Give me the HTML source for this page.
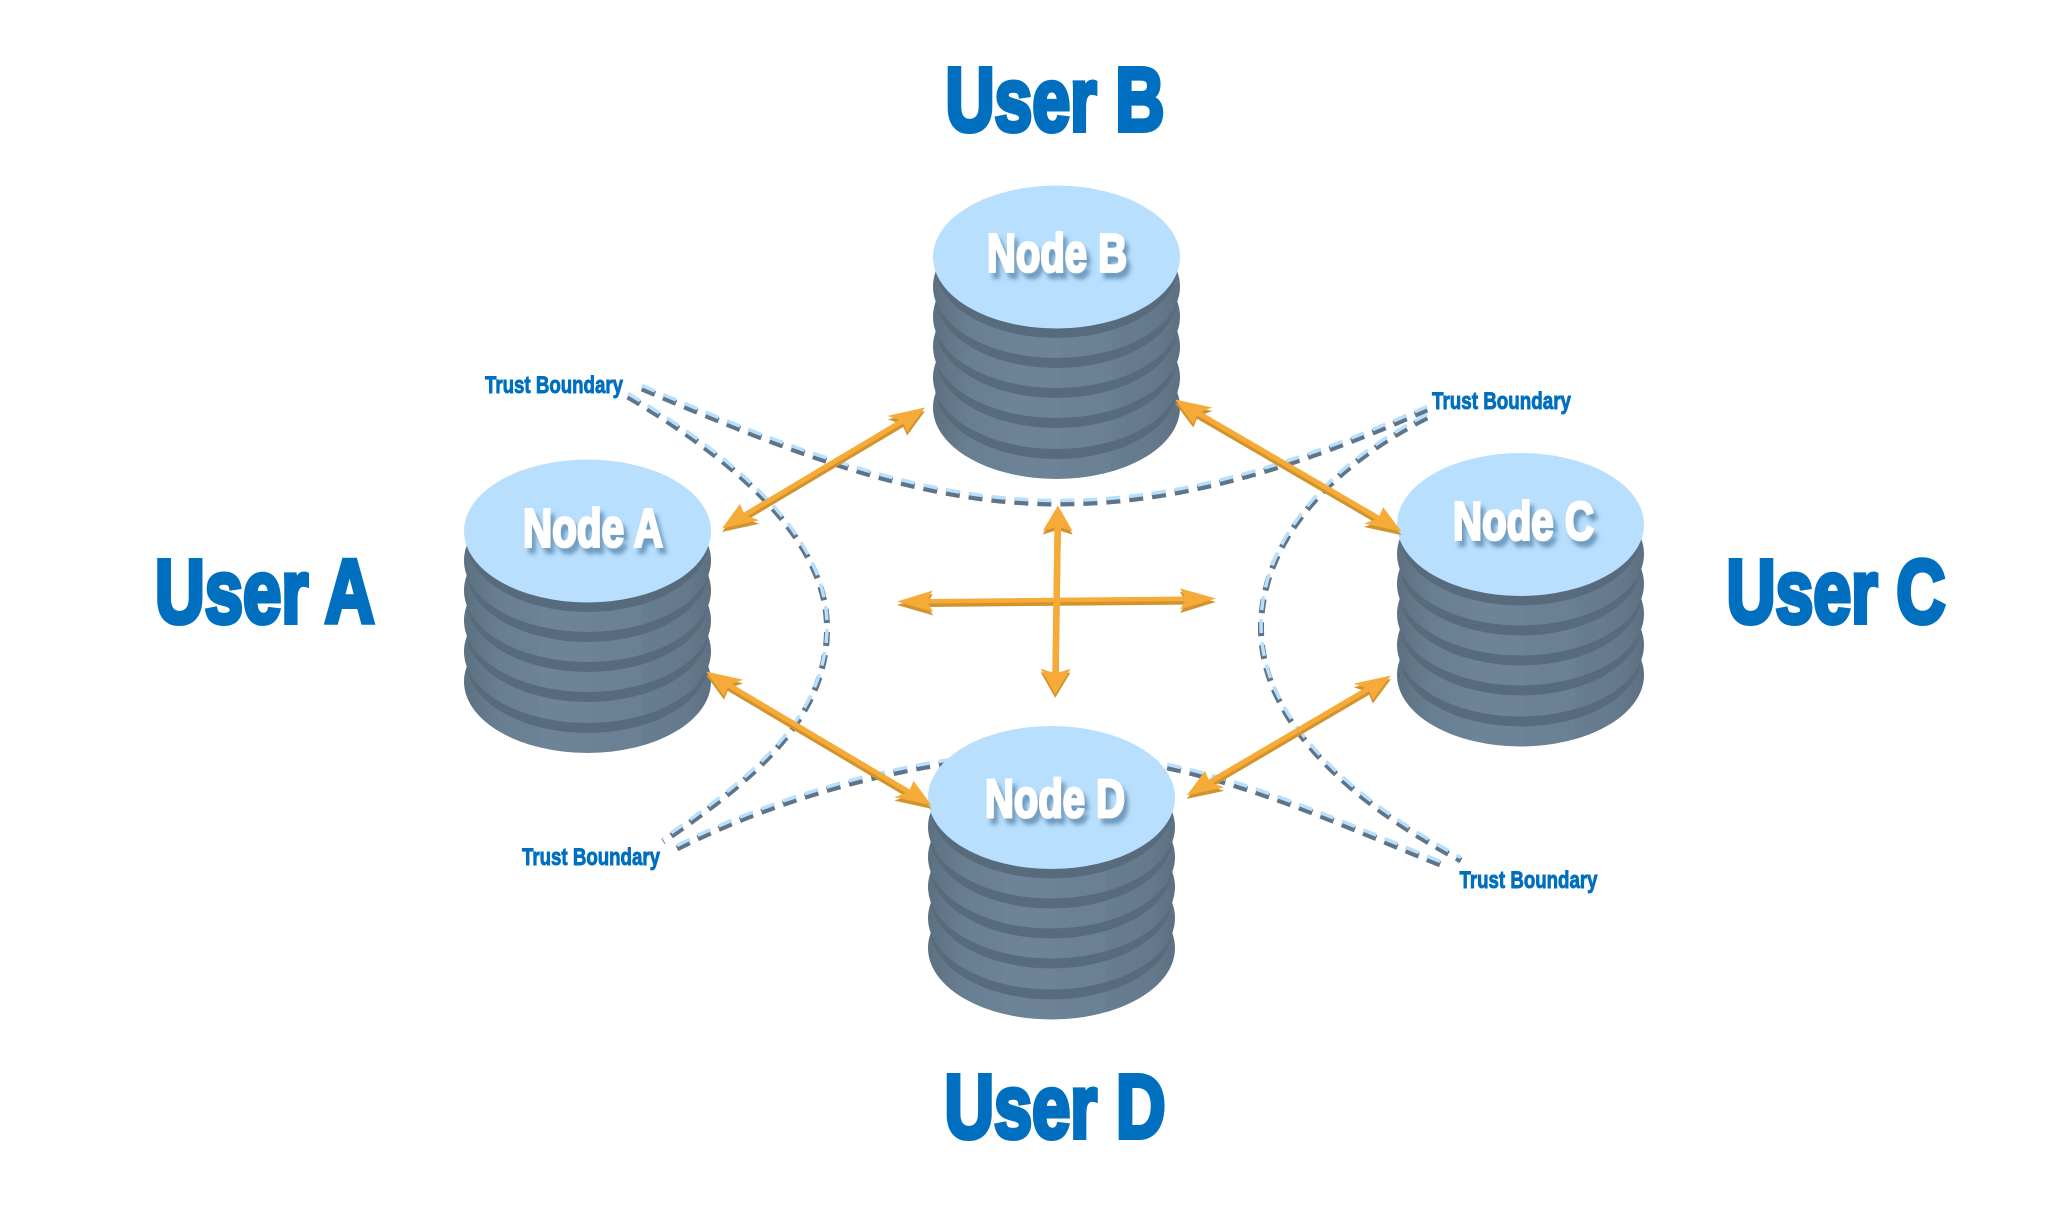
<!DOCTYPE html>
<html>
<head>
<meta charset="utf-8">
<style>
html,body{margin:0;padding:0;background:#fff;}
svg{display:block;}
text{font-family:"Liberation Sans",sans-serif;font-weight:bold;}
.u{font-size:90px;fill:#016fbf;stroke:#016fbf;stroke-width:5px;stroke-linejoin:miter;}
.n{font-size:54px;fill:#fff;stroke:#fff;stroke-width:2.8px;stroke-linejoin:miter;}
.t{font-size:24px;fill:#016fbf;stroke:#016fbf;stroke-width:.9px;}
.dk{fill:none;stroke:#5f7487;stroke-width:6;stroke-dasharray:14 9;}
.lt{fill:none;stroke:#b8dffd;stroke-width:3.5;stroke-dasharray:14 9;}
</style>
</head>
<body>
<svg width="2048" height="1230" viewBox="0 0 2048 1230" xmlns="http://www.w3.org/2000/svg">
<defs>
<linearGradient id="f" x1="0" x2="1" y1="0" y2="0">
<stop offset="0" stop-color="#5c7081"/><stop offset=".07" stop-color="#627788"/>
<stop offset=".14" stop-color="#687e91"/><stop offset=".3" stop-color="#6b8195"/>
<stop offset=".3" stop-color="#6d8498"/><stop offset=".52" stop-color="#6d8498"/>
<stop offset=".52" stop-color="#6b8296"/><stop offset=".72" stop-color="#6a8093"/>
<stop offset=".72" stop-color="#677d90"/><stop offset=".9" stop-color="#647a8c"/>
<stop offset="1" stop-color="#5c7081"/>
</linearGradient>
<filter id="s" x="-20%" y="-30%" width="140%" height="170%">
<feDropShadow dx="4" dy="6" stdDeviation="2.2" flood-color="#4f7ea5" flood-opacity=".7"/>
</filter>
<g id="stack">
<ellipse cy="150.5" rx="123.5" ry="71.5" fill="url(#f)"/>
<ellipse cy="130.5" rx="121" ry="71.5" fill="#586b7c"/>
<ellipse cy="120.5" rx="123.5" ry="71.5" fill="url(#f)"/>
<ellipse cy="99.5" rx="121" ry="71.5" fill="#586b7c"/>
<ellipse cy="89.5" rx="123.5" ry="71.5" fill="url(#f)"/>
<ellipse cy="69.5" rx="121" ry="71.5" fill="#586b7c"/>
<ellipse cy="59.5" rx="123.5" ry="71.5" fill="url(#f)"/>
<ellipse cy="39.5" rx="121" ry="71.5" fill="#586b7c"/>
<ellipse cy="29.5" rx="123.5" ry="71.5" fill="url(#f)"/>
<ellipse cy="9.5" rx="121" ry="71.5" fill="#586b7c"/>
<ellipse cy="0" rx="123.5" ry="71.5" fill="#b8dffd"/>
</g>
<g id="ar">
<polygon transform="translate(723,530) scale(1,.71) rotate(-40)" points="0,0 36,-15 31,-3.2 234,-3.2 229,-15 265,0 229,15 234,3.2 31,3.2 36,15"/>
<polygon transform="translate(1176,401) scale(1,.71) rotate(39.4)" points="0,0 36,-15 31,-3.2 262,-3.2 257,-15 293,0 257,15 262,3.2 31,3.2 36,15"/>
<polygon transform="translate(707,673) scale(1,.71) rotate(39.9)" points="0,0 36,-15 31,-3.2 263,-3.2 258,-15 294,0 258,15 263,3.2 31,3.2 36,15"/>
<polygon transform="translate(1392,677) scale(1,.71) rotate(140.4)" points="0,0 36,-15 31,-3.2 234,-3.2 229,-15 265,0 229,15 234,3.2 31,3.2 36,15"/>
<polygon transform="translate(898,603) scale(1,.71) rotate(-.75)" points="0,0 36,-15 31,-3.2 288,-3.2 283,-15 319,0 283,15 288,3.2 31,3.2 36,15"/>
<polygon transform="translate(1059,507) scale(1,.71) rotate(90.6)" points="0,0 36,-15 31,-3.2 235,-3.2 230,-15 266,0 230,15 235,3.2 31,3.2 36,15"/>
</g>
</defs>

<rect width="2048" height="1230" fill="#fff"/>

<!-- trust boundaries -->
<g transform="translate(0,1.5)">
<path class="dk" d="M642,387 C790,450 920,502 1058,502 C1195,502 1320,455 1427,408"/>
<path class="dk" d="M628,395 C720,450 827,530 827,627 C827,720 750,780 663,840"/>
<path class="dk" d="M677,847 C790,790 930,755 1050,752 C1200,755 1320,815 1448,866"/>
<path class="dk" d="M1427,416 C1330,465 1261,540 1261,627 C1261,720 1350,800 1461,859"/>
</g>
<g transform="translate(0,-1.5)">
<path class="lt" d="M642,387 C790,450 920,502 1058,502 C1195,502 1320,455 1427,408"/>
<path class="lt" d="M628,395 C720,450 827,530 827,627 C827,720 750,780 663,840"/>
<path class="lt" d="M677,847 C790,790 930,755 1050,752 C1200,755 1320,815 1448,866"/>
<path class="lt" d="M1427,416 C1330,465 1261,540 1261,627 C1261,720 1350,800 1461,859"/>
</g>

<!-- nodes -->
<use href="#stack" x="1056.5" y="257"/>
<use href="#stack" x="587.5" y="531"/>
<use href="#stack" x="1520.5" y="524.5"/>
<use href="#stack" x="1051.5" y="797.5"/>

<!-- arrows -->
<g transform="translate(-1,-1.5)">
<use href="#ar" fill="#d1932e" transform="translate(0,3.5)"/>
<use href="#ar" fill="#f6ab38"/>
</g>

<!-- node labels -->
<g class="n" filter="url(#s)">
<text x="987" y="271.5" textLength="140" lengthAdjust="spacingAndGlyphs">Node B</text>
<text x="523" y="546.5" textLength="140" lengthAdjust="spacingAndGlyphs">Node A</text>
<text x="1453" y="539.5" textLength="141" lengthAdjust="spacingAndGlyphs">Node C</text>
<text x="985" y="817" textLength="140" lengthAdjust="spacingAndGlyphs">Node D</text>
</g>

<!-- user labels -->
<text class="u" x="945.5" y="130.5" textLength="219" lengthAdjust="spacingAndGlyphs">User B</text>
<text class="u" x="155" y="622.5" textLength="219.5" lengthAdjust="spacingAndGlyphs">User A</text>
<text class="u" x="1726.5" y="622.5" textLength="219" lengthAdjust="spacingAndGlyphs">User C</text>
<text class="u" x="944.5" y="1137.5" textLength="221" lengthAdjust="spacingAndGlyphs">User D</text>

<!-- trust labels -->
<text class="t" x="485" y="393" textLength="138" lengthAdjust="spacingAndGlyphs">Trust Boundary</text>
<text class="t" x="522" y="865" textLength="138" lengthAdjust="spacingAndGlyphs">Trust Boundary</text>
<text class="t" x="1432" y="409" textLength="139" lengthAdjust="spacingAndGlyphs">Trust Boundary</text>
<text class="t" x="1459.5" y="888" textLength="138" lengthAdjust="spacingAndGlyphs">Trust Boundary</text>
</svg>
</body>
</html>
